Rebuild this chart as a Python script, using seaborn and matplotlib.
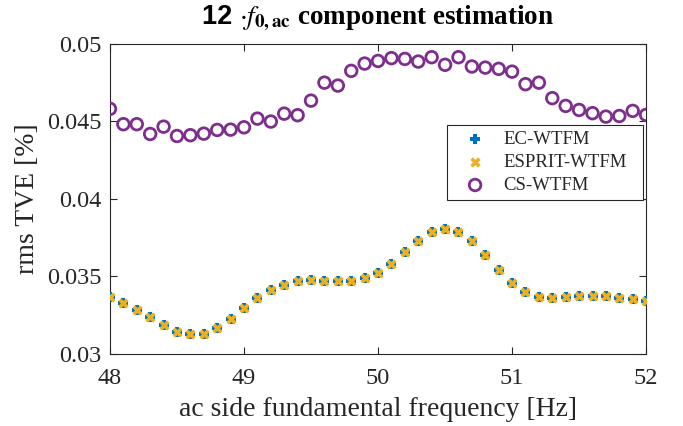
import numpy as np
import pandas as pd
import matplotlib
matplotlib.use("Agg")
import matplotlib.pyplot as plt
from matplotlib.offsetbox import TextArea, HPacker, AnchoredOffsetbox
import seaborn as sns

freq = [48.0 + 0.1 * i for i in range(41)]
ec_wtfm = [0.03369, 0.03328, 0.03287, 0.03240, 0.03190, 0.03143, 0.03126, 0.03130, 0.03167, 0.03227,
           0.03298, 0.03363, 0.03414, 0.03448, 0.03470, 0.03477, 0.03474, 0.03474, 0.03474, 0.03487,
           0.03524, 0.03582, 0.03655, 0.03728, 0.03786, 0.03806, 0.03786, 0.03726, 0.03636, 0.03541,
           0.03457, 0.03399, 0.03369, 0.03363, 0.03365, 0.03374, 0.03376, 0.03371, 0.03363, 0.03352,
           0.03343]
esprit_wtfm = list(ec_wtfm)
cs_wtfm = [0.04581, 0.04482, 0.04482, 0.04419, 0.04466, 0.04406, 0.04411, 0.04421, 0.04445, 0.04447,
           0.04462, 0.04518, 0.04499, 0.04550, 0.04540, 0.04634, 0.04750, 0.04731, 0.04826, 0.04873,
           0.04890, 0.04908, 0.04903, 0.04886, 0.04914, 0.04865, 0.04914, 0.04854, 0.04847, 0.04839,
           0.04821, 0.04740, 0.04750, 0.04650, 0.04600, 0.04574, 0.04553, 0.04531, 0.04535, 0.04568,
           0.04542]
xticks = [48, 49, 50, 51, 52]
yticks = [0.03, 0.035, 0.04, 0.045, 0.05]
ytick_labels = ["0.03", "0.035", "0.04", "0.045", "0.05"]

sns.set_theme(style="white")
plt.rcParams["font.family"] = ["Liberation Serif", "DejaVu Serif"]
plt.rcParams["mathtext.fontset"] = "stix"

fig = plt.figure(figsize=(6.83, 4.26), dpi=100)
ax = fig.add_axes([0.161, 0.169, 0.785, 0.728])

sns.scatterplot(x=freq, y=ec_wtfm, marker="P", s=55, color="#0072BD", linewidth=0,
                ax=ax, label="EC-WTFM", zorder=3)
sns.scatterplot(x=freq, y=esprit_wtfm, marker="X", s=55, color="#EDB120", linewidth=0,
                ax=ax, label="ESPRIT-WTFM", zorder=4)
sns.scatterplot(x=freq, y=cs_wtfm, marker="o", s=70, facecolor="none", edgecolor="#7E2F8E",
                linewidth=2.0, ax=ax, label="CS-WTFM", zorder=5)

ax.set_xlim(48, 52)
ax.set_ylim(0.03, 0.05)
ax.set_xticks(xticks)
ax.set_xticklabels([str(t) for t in xticks])
ax.set_yticks(yticks)
ax.set_yticklabels(ytick_labels)
ax.tick_params(direction="in", length=5, width=0.8, labelsize=17.5, colors="#262626",
               top=True, right=True, bottom=True, left=True, pad=6)
ax.tick_params(axis="x", pad=10)
for sp in ax.spines.values():
    sp.set_color("#262626")
    sp.set_linewidth(0.8)

ax.set_xlabel("ac side fundamental frequency [Hz]", fontsize=20, color="#262626", labelpad=6)
ax.set_ylabel("rms TVE [%]", fontsize=20, color="#262626", labelpad=5)

t1 = TextArea("12 ", textprops=dict(family="Liberation Sans", weight="bold", size=19.5, color="black"))
t2 = TextArea(r"$\cdot f_{\mathbf{0,ac}}$ component estimation",
              textprops=dict(family="Liberation Serif", weight="bold", size=19.5, color="black"))
title_box = HPacker(children=[t1, t2], align="baseline", pad=0, sep=0)
anch = AnchoredOffsetbox(loc="lower center", child=title_box, bbox_to_anchor=(0.5, 1.0),
                         bbox_transform=ax.transAxes, frameon=False, pad=0, borderpad=0.7)
ax.add_artist(anch)

leg = ax.legend(loc="upper left", bbox_to_anchor=(0.6287, 0.5, 0.3657, 0.2387), mode="expand",
                fontsize=13.5, frameon=True, fancybox=False, framealpha=1, edgecolor="#262626",
                borderpad=0.3, labelspacing=0.32, handletextpad=0.3, borderaxespad=0,
                handlelength=2.39)
leg.get_frame().set_linewidth(0.8)

fig.savefig("out.png", dpi=100)
